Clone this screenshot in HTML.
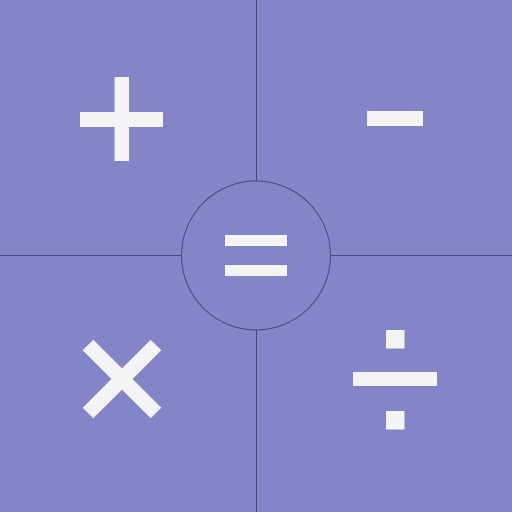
<!DOCTYPE html>
<html><head><meta charset="utf-8"><style>
html,body{margin:0;padding:0;background:#8484C8;}
svg{display:block}
</style></head><body>
<svg width="512" height="512" viewBox="0 0 512 512">
<rect x="0" y="0" width="512" height="512" fill="#8484C8"/>
<g stroke="#4a4a6e" stroke-width="1">
<line x1="256.5" y1="0" x2="256.5" y2="181"/>
<line x1="256.5" y1="330" x2="256.5" y2="512"/>
<line x1="0" y1="255.5" x2="182" y2="255.5"/>
<line x1="331" y1="255.5" x2="512" y2="255.5"/>
</g>
<circle cx="256" cy="255.5" r="74.5" fill="#8484C8" stroke="#4a4a6e" stroke-width="1"/>
<g fill="#F4F4F6">
<g>
<rect x="225" y="235" width="62" height="11"/>
<rect x="225" y="265" width="62" height="11"/>
</g>
<g>
<rect x="114.5" y="77" width="14.5" height="84"/>
<rect x="80" y="112" width="83" height="15"/>
</g>
<rect x="367" y="111" width="56" height="15"/>
<g>
<rect x="386" y="330" width="18.5" height="18.5"/>
<rect x="353" y="372" width="84" height="14"/>
<rect x="386" y="411" width="18.5" height="18.5"/>
</g>
</g>
<g stroke="#F4F4F6" stroke-width="15">
<line x1="88" y1="345" x2="156" y2="413"/>
<line x1="156" y1="345" x2="88" y2="413"/>
</g>
</svg>
</body></html>
